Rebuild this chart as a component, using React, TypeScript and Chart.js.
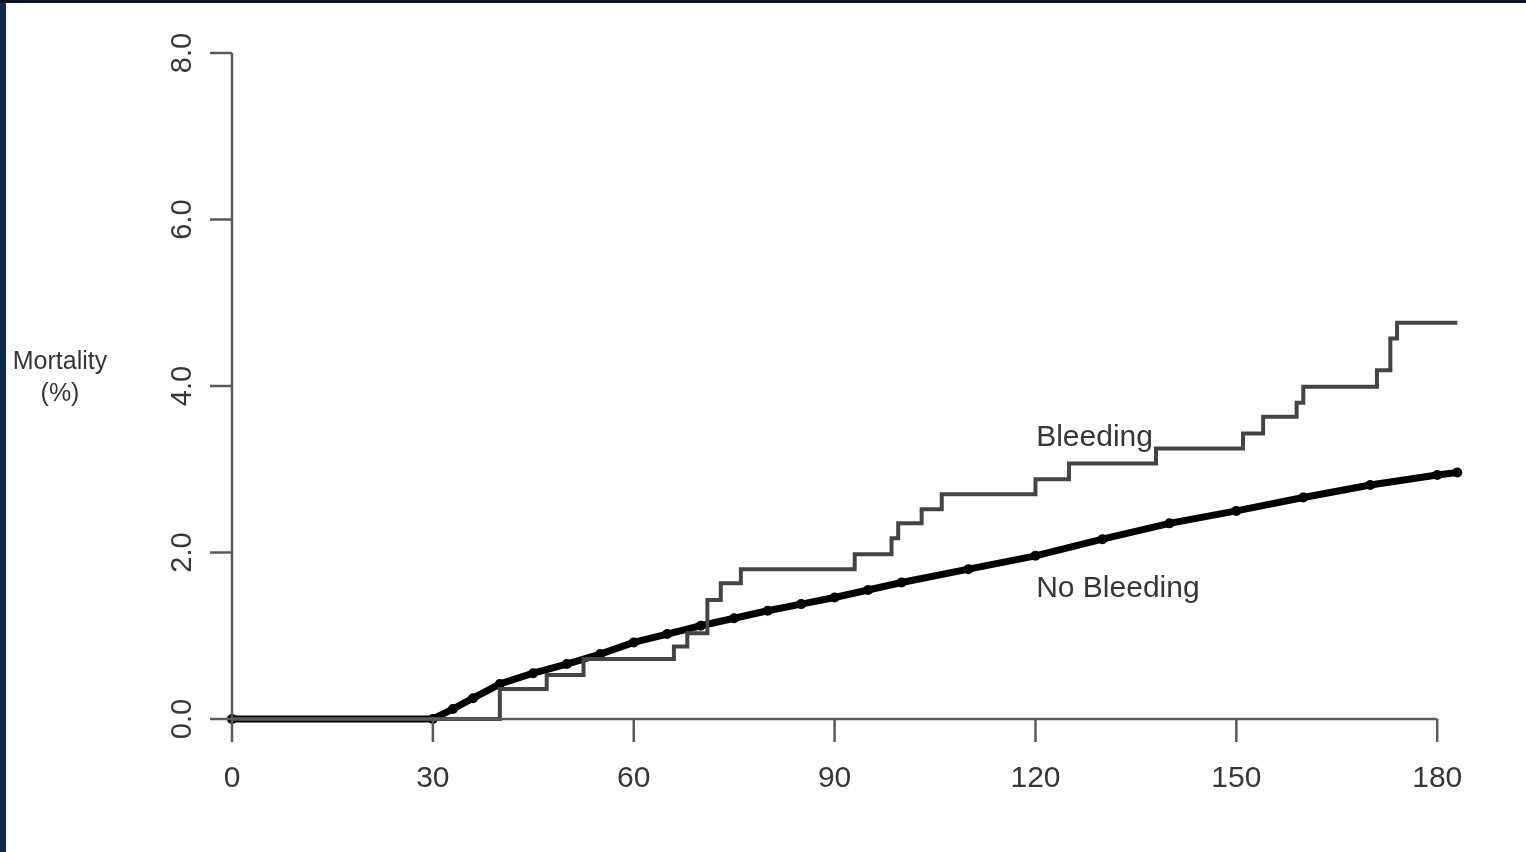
import React, { useEffect, useRef } from "react";
import { Chart, registerables } from "chart.js";

Chart.register(...registerables);

// Data
const bleedDays = [0, 40, 47, 52.5, 66, 68, 71, 73, 76, 93, 98.5, 99.5, 103, 106, 120, 125, 138, 151, 154, 159, 160, 171, 173, 174, 183];
const bleedMort = [0, 0.36, 0.53, 0.72, 0.87, 1.03, 1.43, 1.63, 1.8, 1.98, 2.17, 2.35, 2.52, 2.7, 2.88, 3.07, 3.25, 3.43, 3.63, 3.8, 3.99, 4.19, 4.57, 4.76, 4.76];

const noBleedDays = [0, 30, 33, 36, 40, 45, 50, 55, 60, 65, 70, 75, 80, 85, 90, 95, 100, 110, 120, 130, 140, 150, 160, 170, 180, 183];
const noBleedMort = [0, 0, 0.12, 0.25, 0.42, 0.55, 0.66, 0.78, 0.92, 1.02, 1.12, 1.21, 1.3, 1.38, 1.46, 1.55, 1.64, 1.8, 1.96, 2.16, 2.35, 2.5, 2.66, 2.81, 2.93, 2.96];

const xTicks = [0, 30, 60, 90, 120, 150, 180];
const yTicks = [0, 2, 4, 6, 8];
const yTickLabels = ["0.0", "2.0", "4.0", "6.0", "8.0"];
const seriesLabels = ["Bleeding", "No Bleeding"];
const yTitle = ["Mortality", "(%)"];

const FONT = '"Liberation Sans", Arial, sans-serif';

const decorPlugin = {
  id: "decor",
  beforeDraw(chart: any) {
    const ctx = chart.ctx;
    ctx.save();
    ctx.fillStyle = "#ffffff";
    ctx.fillRect(0, 0, chart.width, chart.height);
    ctx.restore();
  },
  afterDatasetsDraw(chart: any) {
    const ctx = chart.ctx;
    const xs = chart.scales.x;
    const ys = chart.scales.y;
    ctx.save();
    // axes
    ctx.strokeStyle = "#5a5a5a";
    ctx.lineWidth = 2.5;
    const x0 = xs.getPixelForValue(0);
    const x180 = xs.getPixelForValue(180);
    const y0 = ys.getPixelForValue(0);
    const y8 = ys.getPixelForValue(8);
    ctx.beginPath();
    ctx.moveTo(x0, y0);
    ctx.lineTo(x180, y0);
    ctx.stroke();
    ctx.beginPath();
    ctx.moveTo(x0, y0);
    ctx.lineTo(x0, y8);
    ctx.stroke();
    // x ticks
    ctx.fillStyle = "#363636";
    ctx.font = `30px ${FONT}`;
    ctx.textAlign = "center";
    ctx.textBaseline = "middle";
    xTicks.forEach((t) => {
      const px = xs.getPixelForValue(t);
      ctx.beginPath();
      ctx.moveTo(px, y0);
      ctx.lineTo(px, y0 + 23);
      ctx.stroke();
      ctx.fillText(String(t), px, y0 + 60);
    });
    // y ticks
    ctx.font = `29px ${FONT}`;
    yTicks.forEach((t, i) => {
      const py = ys.getPixelForValue(t);
      ctx.beginPath();
      ctx.moveTo(x0, py);
      ctx.lineTo(x0 - 22, py);
      ctx.stroke();
      ctx.save();
      ctx.translate(x0 - 49, py);
      ctx.rotate(-Math.PI / 2);
      ctx.fillText(yTickLabels[i], 0, 0);
      ctx.restore();
    });
    // y title
    ctx.font = `25px ${FONT}`;
    ctx.fillText(yTitle[0], 60, 362);
    ctx.fillText(yTitle[1], 60, 394);
    // series labels
    ctx.font = `30px ${FONT}`;
    ctx.textAlign = "left";
    ctx.textBaseline = "alphabetic";
    ctx.fillText(seriesLabels[0], xs.getPixelForValue(120.1), ys.getPixelForValue(3.28));
    ctx.fillText(seriesLabels[1], xs.getPixelForValue(120.1), ys.getPixelForValue(1.47));
    // frame strips
    ctx.fillStyle = "#132a4d";
    ctx.fillRect(0, 0, 6, chart.height);
    ctx.fillStyle = "#0b1424";
    ctx.fillRect(0, 0, chart.width, 3);
    ctx.restore();
  },
};

export default function App() {
  const ref = useRef<HTMLCanvasElement | null>(null);
  useEffect(() => {
    if (!ref.current) return;
    const chart = new Chart(ref.current, {
      type: "line",
      data: {
        datasets: [
          {
            label: seriesLabels[0],
            data: bleedDays.map((d, i) => ({ x: d, y: bleedMort[i] })),
            borderColor: "#444444",
            backgroundColor: "#444444",
            borderWidth: 4,
            pointRadius: 0,
            stepped: "before",
            clip: false as any,
          },
          {
            label: seriesLabels[1],
            data: noBleedDays.map((d, i) => ({ x: d, y: noBleedMort[i] })),
            borderColor: "#000000",
            backgroundColor: "#000000",
            borderWidth: 7,
            pointRadius: 5,
            pointBorderWidth: 0,
            tension: 0,
            clip: false as any,
          },
        ],
      },
      options: {
        animation: false,
        responsive: false,
        maintainAspectRatio: false,
        layout: { padding: { left: 232, right: 62, top: 53, bottom: 133 } },
        plugins: { legend: { display: false }, tooltip: { enabled: false } },
        scales: {
          x: { type: "linear", min: 0, max: 184, display: false },
          y: { type: "linear", min: 0, max: 8, display: false },
        },
      },
      plugins: [decorPlugin],
    });
    return () => chart.destroy();
  }, []);
  return (
    <div style={{ position: "fixed", left: 0, top: 0, width: 1526, height: 852, background: "#fff" }}>
      <canvas ref={ref} width={1526} height={852} style={{ width: 1526, height: 852, display: "block" }} />
    </div>
  );
}
